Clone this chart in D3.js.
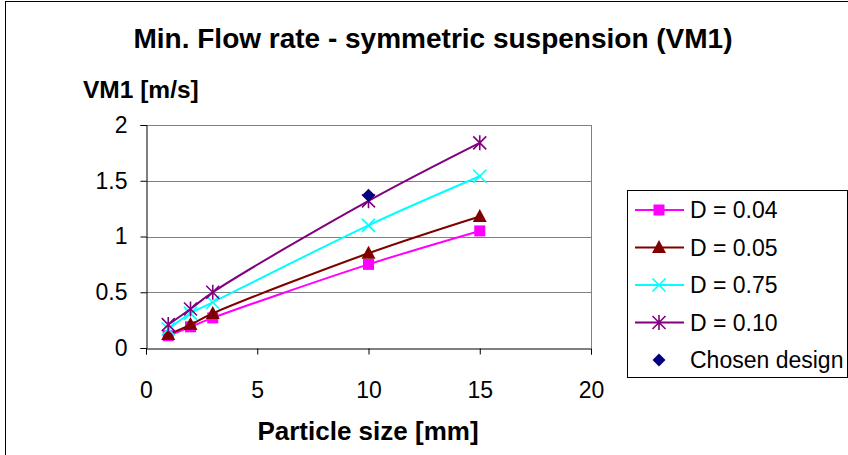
<!DOCTYPE html>
<html>
<head>
<meta charset="utf-8">
<script src="https://cdn.jsdelivr.net/npm/d3@7"></script>
<style>
  body { margin: 0; background: #fff; }
  text { font-family: "Liberation Sans", Arial, sans-serif; fill: #000; }
</style>
</head>
<body>
<script>
// data
var sizes = [1, 2, 3, 10, 15];
var d004 = [0.11, 0.19, 0.27, 0.75, 1.05];
var d005 = [0.12, 0.21, 0.31, 0.85, 1.18];
var d075 = [0.17, 0.31, 0.41, 1.10, 1.54];
var d010 = [0.21, 0.35, 0.50, 1.32, 1.84];
var chosenX = [10];
var chosenY = [1.37];
var xTicks = [0, 5, 10, 15, 20];
var yTicks = [0, 0.5, 1, 1.5, 2];

var series = [
    { name: "D = 0.04", values: d004, color: "#FF00FF", marker: "square" },
    { name: "D = 0.05", values: d005, color: "#800000", marker: "triangle" },
    { name: "D = 0.75", values: d075, color: "#00FFFF", marker: "x" },
    { name: "D = 0.10", values: d010, color: "#800080", marker: "star" }
];

var W = 848, H = 455;
var margin = { top: 125, left: 146, right: 257, bottom: 107 };
var width = W - margin.left - margin.right;
var height = H - margin.top - margin.bottom;

var svg = d3.select("body").append("svg")
    .attr("width", W)
    .attr("height", H);

// chart frame (only left and top edges fall inside the picture)
svg.append("rect")
    .attr("x", 5.5).attr("y", 1.5)
    .attr("width", W + 10).attr("height", H + 10)
    .attr("fill", "none").attr("stroke", "#000").attr("stroke-width", 1);

svg.append("text")
    .attr("x", 433).attr("y", 48)
    .attr("text-anchor", "middle")
    .style("font-size", "28px").style("font-weight", "bold")
    .text("Min. Flow rate - symmetric suspension (VM1)");

var g = svg.append("g")
    .attr("transform", "translate(" + margin.left + "," + margin.top + ")");

var x = d3.scaleLinear().domain([0, 20]).range([0, width]);
var y = d3.scaleLinear().domain([0, 2]).range([height, 0]);

// grid lines
g.append("g").selectAll("line")
    .data(yTicks.filter(d => d > 0))
    .enter().append("line")
    .attr("x1", 0).attr("x2", width)
    .attr("y1", d => Math.round(y(d)) + 0.5)
    .attr("y2", d => Math.round(y(d)) + 0.5)
    .attr("stroke", "#808080");

// right border of the plot area
g.append("line")
    .attr("x1", Math.round(width) + 0.5).attr("x2", Math.round(width) + 0.5)
    .attr("y1", 0).attr("y2", height)
    .attr("stroke", "#808080");

// axes
var yAxis = g.append("g")
    .attr("transform", "translate(0.5,0)")
    .call(d3.axisLeft(y).tickValues(yTicks).tickSize(6).tickPadding(13).tickFormat(d3.format("")));
var xAxis = g.append("g")
    .attr("transform", "translate(0," + (Math.round(height) + 0.5) + ")")
    .call(d3.axisBottom(x).tickValues(xTicks).tickSize(6).tickPadding(27));

[yAxis, xAxis].forEach(function (a) {
    a.select(".domain").attr("stroke", "#000");
    a.selectAll(".tick line").attr("stroke", "#000");
    a.selectAll(".tick text")
        .style("font-size", "23px")
        .style("font-family", "'Liberation Sans', Arial, sans-serif")
        .attr("fill", "#000");
});

// axis titles
svg.append("text")
    .attr("x", 83).attr("y", 98)
    .style("font-size", "24.5px").style("font-weight", "bold")
    .text("VM1 [m/s]");

svg.append("text")
    .attr("x", 368).attr("y", 440)
    .attr("text-anchor", "middle")
    .style("font-size", "26px").style("font-weight", "bold")
    .text("Particle size [mm]");

// marker shapes
function drawMarker(sel, type, color) {
    if (type === "square") {
        sel.append("rect").attr("x", -5.5).attr("y", -5.5).attr("width", 11).attr("height", 11)
            .attr("fill", color);
    } else if (type === "triangle") {
        sel.append("path").attr("d", "M0,-7.5L7,5.5L-7,5.5Z").attr("fill", color);
    } else if (type === "x") {
        sel.append("path").attr("d", "M-6.5,-6.5L6.5,6.5M-6.5,6.5L6.5,-6.5")
            .attr("stroke", color).attr("stroke-width", 1.6).attr("fill", "none");
    } else if (type === "star") {
        sel.append("path").attr("d", "M-6.5,-6.5L6.5,6.5M-6.5,6.5L6.5,-6.5M0,-7.5L0,7.5")
            .attr("stroke", color).attr("stroke-width", 1.6).attr("fill", "none");
    } else if (type === "diamond") {
        sel.append("path").attr("d", "M0,-6.5L6.5,0L0,6.5L-6.5,0Z").attr("fill", color);
    }
}

var line = d3.line()
    .x(d => x(d[0]))
    .y(d => y(d[1]))
    .curve(d3.curveCatmullRom.alpha(0.5));

series.forEach(function (s) {
    var pts = sizes.map((v, i) => [v, s.values[i]]);
    g.append("path")
        .datum(pts)
        .attr("d", line)
        .attr("fill", "none")
        .attr("stroke", s.color)
        .attr("stroke-width", 2);
    g.append("g").selectAll("g")
        .data(pts)
        .enter().append("g")
        .attr("transform", d => "translate(" + x(d[0]) + "," + y(d[1]) + ")")
        .each(function () { drawMarker(d3.select(this), s.marker, s.color); });
});

// chosen design point
g.append("g").selectAll("g")
    .data(chosenX.map((v, i) => [v, chosenY[i]]))
    .enter().append("g")
    .attr("transform", d => "translate(" + x(d[0]) + "," + y(d[1]) + ")")
    .each(function () { drawMarker(d3.select(this), "diamond", "#000080"); });

// legend
var legend = svg.append("g").attr("transform", "translate(627,190)");
legend.append("rect")
    .attr("x", 0.5).attr("y", 0.5)
    .attr("width", 220).attr("height", 187)
    .attr("fill", "#fff").attr("stroke", "#000");

var legendItems = series.map(s => ({ name: s.name, color: s.color, marker: s.marker, line: true }))
    .concat([{ name: "Chosen design", color: "#000080", marker: "diamond", line: false }]);

var item = legend.selectAll("g.item")
    .data(legendItems)
    .enter().append("g")
    .attr("class", "item")
    .attr("transform", (d, i) => "translate(0," + (20 + i * 37.5) + ")");

item.filter(d => d.line).append("line")
    .attr("x1", 8).attr("x2", 57)
    .attr("stroke", d => d.color).attr("stroke-width", 2);
item.each(function (d) {
    var m = d3.select(this).append("g").attr("transform", "translate(32,0)");
    drawMarker(m, d.marker, d.color);
});
item.append("text")
    .attr("x", 63).attr("y", 8)
    .style("font-size", "23px")
    .text(d => d.name);
</script>
</body>
</html>
